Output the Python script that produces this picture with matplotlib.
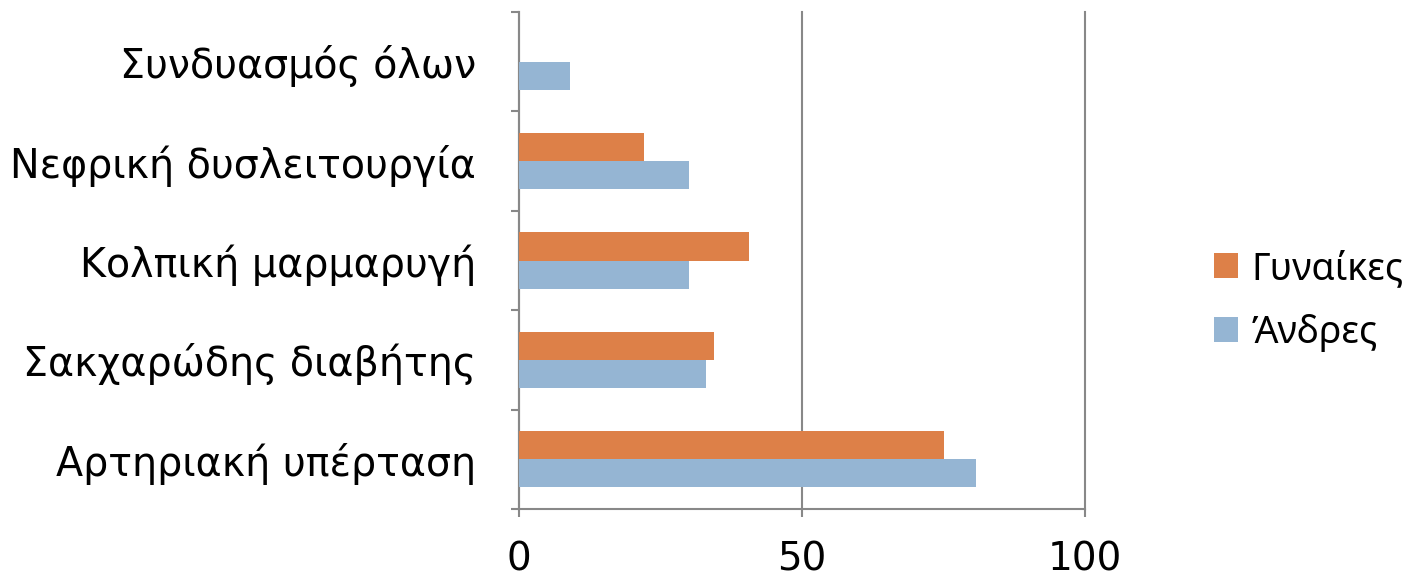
import matplotlib
matplotlib.use("Agg")
import matplotlib.pyplot as plt
import numpy as np

categories = ["Αρτηριακή υπέρταση", "Σακχαρώδης διαβήτης", "Κολπική μαρμαρυγή",
              "Νεφρική δυσλειτουργία", "Συνδυασμός όλων"]
women = [75, 34.4, 40.6, 22, 0]
men = [80.7, 33, 30, 30, 9]
series_names = ["Γυναίκες", "Άνδρες"]
x_ticks = [0, 50, 100]

orange = "#DD8048"
blue = "#95B5D3"
axis_gray = "#888888"

fig = plt.figure(figsize=(14.21, 5.80), dpi=100)
ax = fig.add_axes([519 / 1421, 71 / 580, 566 / 1421, 497 / 580])

y = np.arange(len(categories))
h = 0.283
ax.barh(y + h / 2, women, height=h, color=orange, linewidth=0,
        label=series_names[0], zorder=3)
ax.barh(y - h / 2, men, height=h, color=blue, linewidth=0,
        label=series_names[1], zorder=3)

ax.set_xlim(0, 100)
ax.set_ylim(-0.5, len(categories) - 0.5)

ax.set_xticks(x_ticks)
ax.set_xticklabels([str(v) for v in x_ticks])
ax.set_yticks(y)
ax.set_yticklabels(categories)
ax.set_yticks(np.arange(-0.5, len(categories)), minor=True)

ax.tick_params(axis="y", which="major", length=0, pad=31, labelsize=28.5)
ax.tick_params(axis="y", which="minor", length=6, width=1.5, color=axis_gray, direction="out")
ax.tick_params(axis="x", which="major", length=6, width=1.5, color=axis_gray,
               direction="out", pad=17, labelsize=28)

for lab in ax.get_yticklabels() + ax.get_xticklabels():
    lab.set_family("DejaVu Sans")

for side in ["top", "right"]:
    ax.spines[side].set_visible(False)
for side in ["left", "bottom"]:
    ax.spines[side].set_color(axis_gray)
    ax.spines[side].set_linewidth(1.5)

ax.xaxis.grid(True, color=axis_gray, linewidth=1.5, zorder=0)
for gl in ax.get_xgridlines():
    gl.set_clip_on(False)
ax.set_axisbelow(True)

leg = fig.legend(loc="center left", bbox_to_anchor=(1180 / 1421, 1 - 301 / 580),
                 frameon=False, prop={"family": "Noto Sans", "size": 27},
                 handlelength=0.65, handleheight=0.65, handletextpad=0.35,
                 labelspacing=0.7)

fig.savefig("out.png", dpi=100)
